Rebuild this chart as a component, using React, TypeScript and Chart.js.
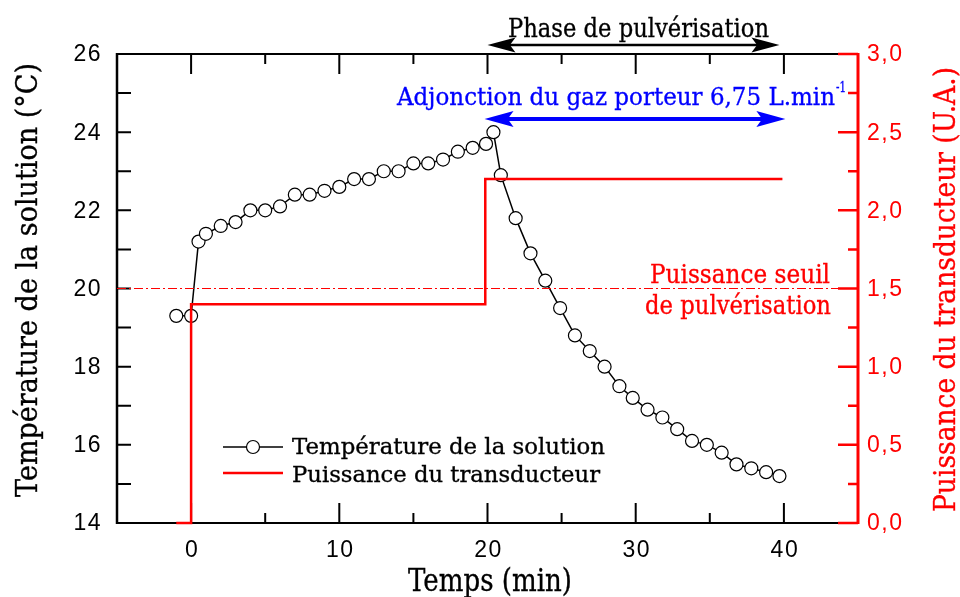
import React, { useEffect, useRef } from "react";
import { Chart, registerables } from "chart.js";
Chart.register(...registerables);

// ---- data ----
const tempTimes = [-1, 0, 0.5, 1, 2, 3, 4, 5, 6, 7, 8, 9, 10, 11, 12, 13, 14, 15, 16, 17, 18, 19, 19.9, 20.4, 20.9, 21.9, 22.9, 23.9, 24.9, 25.9, 26.9, 27.9, 28.9, 29.8, 30.8, 31.8, 32.8, 33.8, 34.8, 35.8, 36.8, 37.8, 38.8, 39.7];
const tempValues = [19.3, 19.3, 21.2, 21.4, 21.6, 21.7, 22.0, 22.0, 22.1, 22.4, 22.4, 22.5, 22.6, 22.8, 22.8, 23.0, 23.0, 23.2, 23.2, 23.3, 23.5, 23.6, 23.7, 24.0, 22.9, 21.8, 20.9, 20.2, 19.5, 18.8, 18.4, 18.0, 17.5, 17.2, 16.9, 16.7, 16.4, 16.1, 16.0, 15.8, 15.5, 15.4, 15.3, 15.2];
const powerTimes = [-1, 0, 0, 19.85, 19.85, 39.9];
const powerValues = [0, 0, 1.4, 1.4, 2.2, 2.2];
const thresholdTimes = [-5, 45];
const thresholdValues = [1.5, 1.5];

const xMajorTicks = [0, 10, 20, 30, 40];
const xMinorTicks = [-5, 5, 15, 25, 35, 45];
const yLeftTicks = [14, 16, 18, 20, 22, 24, 26];
const yLeftMinorTicks = [15, 17, 19, 21, 23, 25];
const yRightTicks = [0, 0.5, 1, 1.5, 2, 2.5, 3];
const yRightMinorTicks = [0.25, 0.75, 1.25, 1.75, 2.25, 2.75];
const yRightLabels = ["0,0", "0,5", "1,0", "1,5", "2,0", "2,5", "3,0"];

const phaseRange = [20, 39.7];
const gasRange = [19.8, 40.1];

const SERIF = '"DejaVu Serif", serif';
const SANS = '"Liberation Sans", Arial, sans-serif';
const RED = "#ff0000";
const BLUE = "#0000ff";

function fitText(
  ctx: CanvasRenderingContext2D,
  text: string,
  x: number,
  y: number,
  width: number,
  size: number,
  color: string,
  align: CanvasTextAlign,
  rotation = 0
) {
  ctx.save();
  ctx.font = `${size}px ${SERIF}`;
  const w = ctx.measureText(text).width;
  const s = width / w;
  ctx.translate(x, y);
  ctx.rotate(rotation);
  ctx.scale(s, 1);
  ctx.fillStyle = color;
  ctx.strokeStyle = color;
  ctx.lineWidth = 0.35;
  ctx.textAlign = align;
  ctx.textBaseline = "alphabetic";
  ctx.fillText(text, 0, 0);
  ctx.strokeText(text, 0, 0);
  ctx.restore();
}

function arrow(ctx: CanvasRenderingContext2D, x1: number, x2: number, y: number, color: string, lw: number, hl: number, hw: number) {
  ctx.save();
  ctx.strokeStyle = color;
  ctx.fillStyle = color;
  ctx.lineWidth = lw;
  ctx.beginPath();
  ctx.moveTo(x1 + hl * 0.7, y);
  ctx.lineTo(x2 - hl * 0.7, y);
  ctx.stroke();
  ctx.beginPath();
  ctx.moveTo(x1, y);
  ctx.lineTo(x1 + hl, y - hw);
  ctx.lineTo(x1 + hl * 0.8, y);
  ctx.lineTo(x1 + hl, y + hw);
  ctx.closePath();
  ctx.fill();
  ctx.beginPath();
  ctx.moveTo(x2, y);
  ctx.lineTo(x2 - hl, y - hw);
  ctx.lineTo(x2 - hl * 0.8, y);
  ctx.lineTo(x2 - hl, y + hw);
  ctx.closePath();
  ctx.fill();
  ctx.restore();
}

const framePlugin = {
  id: "frame",
  beforeDatasetsDraw(chart: any) {
    const { ctx, chartArea: a, scales } = chart;
    const x = scales.x, y = scales.y, y2 = scales.y2;
    ctx.save();
    // frame
    ctx.strokeStyle = "#000";
    ctx.lineWidth = 2;
    ctx.beginPath();
    ctx.moveTo(a.left, a.top);
    ctx.lineTo(a.right, a.top);
    ctx.moveTo(a.left, a.bottom);
    ctx.lineTo(a.right, a.bottom);
    ctx.stroke();
    ctx.lineWidth = 2.5;
    ctx.beginPath();
    ctx.moveTo(a.left, a.top - 1);
    ctx.lineTo(a.left, a.bottom + 1);
    ctx.stroke();
    // x ticks (inward, top and bottom)
    ctx.lineWidth = 2;
    ctx.beginPath();
    for (const t of xMajorTicks) {
      const px = x.getPixelForValue(t);
      ctx.moveTo(px, a.bottom);
      ctx.lineTo(px, a.bottom - 20);
      ctx.moveTo(px, a.top);
      ctx.lineTo(px, a.top + 20);
    }
    for (const t of xMinorTicks) {
      const px = x.getPixelForValue(t);
      ctx.moveTo(px, a.bottom);
      ctx.lineTo(px, a.bottom - 10);
      ctx.moveTo(px, a.top);
      ctx.lineTo(px, a.top + 10);
    }
    // left ticks
    for (const t of [...yLeftTicks, ...yLeftMinorTicks]) {
      const py = y.getPixelForValue(t);
      ctx.moveTo(a.left, py);
      ctx.lineTo(a.left + 14, py);
    }
    ctx.stroke();
    // right red axis
    ctx.strokeStyle = RED;
    ctx.lineWidth = 3;
    ctx.beginPath();
    ctx.moveTo(a.right, a.top - 1);
    ctx.lineTo(a.right, a.bottom + 1);
    ctx.stroke();
    ctx.lineWidth = 2.5;
    ctx.beginPath();
    for (const t of yRightTicks) {
      const py = y2.getPixelForValue(t);
      ctx.moveTo(a.right, py);
      ctx.lineTo(a.right - 20, py);
    }
    for (const t of yRightMinorTicks) {
      const py = y2.getPixelForValue(t);
      ctx.moveTo(a.right, py);
      ctx.lineTo(a.right - 10, py);
    }
    ctx.stroke();

    // tick labels
    ctx.font = `23px ${SANS}`;
    if ("letterSpacing" in ctx) (ctx as any).letterSpacing = "1.5px";
    ctx.fillStyle = "#000";
    ctx.textBaseline = "middle";
    ctx.textAlign = "right";
    for (const t of yLeftTicks) ctx.fillText(String(t), 102, y.getPixelForValue(t) + 1);
    ctx.textAlign = "center";
    for (const t of xMajorTicks) ctx.fillText(String(t), x.getPixelForValue(t) + 1, 551);
    ctx.textAlign = "left";
    ctx.fillStyle = RED;
    yRightTicks.forEach((t, i) => ctx.fillText(yRightLabels[i], 867, y2.getPixelForValue(t) + 1));
    if ("letterSpacing" in ctx) (ctx as any).letterSpacing = "0px";
    ctx.restore();
  },
  afterDraw(chart: any) {
    const { ctx, scales } = chart;
    const x = scales.x;
    // axis titles
    fitText(ctx, "Température de la solution (°C)", 37, 280, 434, 30, "#000", "center", -Math.PI / 2);
    fitText(ctx, "Puissance du transducteur (U.A.)", 955, 289.5, 445, 30, RED, "center", -Math.PI / 2);
    fitText(ctx, "Temps (min)", 490, 591, 164, 31, "#000", "center");
    // annotations
    fitText(ctx, "Phase de pulvérisation", 508, 37, 261, 26, "#000", "left");
    arrow(ctx, x.getPixelForValue(phaseRange[0]), x.getPixelForValue(phaseRange[1]), 45, "#000", 2.5, 28, 7.5);
    fitText(ctx, "Adjonction du gaz porteur 6,75 L.min", 397, 105, 438, 25, BLUE, "left");
    fitText(ctx, "-1", 836, 92, 10, 15, BLUE, "left");
    arrow(ctx, x.getPixelForValue(gasRange[0]), x.getPixelForValue(gasRange[1]), 119, BLUE, 4, 29, 8);
    fitText(ctx, "Puissance seuil", 830, 283, 180, 26, RED, "right");
    fitText(ctx, "de pulvérisation", 831, 314, 186, 26, RED, "right");
    // legend
    ctx.save();
    ctx.strokeStyle = "#000";
    ctx.lineWidth = 1.5;
    ctx.beginPath();
    ctx.moveTo(223, 447);
    ctx.lineTo(283, 447);
    ctx.stroke();
    ctx.beginPath();
    ctx.arc(253, 447, 6.5, 0, Math.PI * 2);
    ctx.fillStyle = "#fff";
    ctx.fill();
    ctx.lineWidth = 1.2;
    ctx.stroke();
    ctx.strokeStyle = RED;
    ctx.lineWidth = 2.5;
    ctx.beginPath();
    ctx.moveTo(223, 473);
    ctx.lineTo(283, 473);
    ctx.stroke();
    ctx.restore();
    fitText(ctx, "Température de la solution", 292, 454, 313, 23, "#000", "left");
    fitText(ctx, "Puissance du transducteur", 292, 482, 308, 23, "#000", "left");
  },
};

export default function App() {
  const ref = useRef<HTMLCanvasElement | null>(null);
  useEffect(() => {
    if (!ref.current) return;
    const chart = new Chart(ref.current, {
      type: "line",
      data: {
        datasets: [
          {
            label: "Puissance du transducteur",
            data: powerTimes.map((t, i) => ({ x: t, y: powerValues[i] })),
            yAxisID: "y2",
            borderColor: RED,
            borderWidth: 2.5,
            pointRadius: 0,
            tension: 0,
            clip: false as any,
          },
          {
            label: "Puissance seuil",
            data: thresholdTimes.map((t, i) => ({ x: t, y: thresholdValues[i] })),
            yAxisID: "y2",
            borderColor: RED,
            borderWidth: 1.2,
            borderDash: [9, 3, 2, 3],
            pointRadius: 0,
          },
          {
            label: "Température de la solution",
            data: tempTimes.map((t, i) => ({ x: t, y: tempValues[i] })),
            yAxisID: "y",
            borderColor: "#000",
            borderWidth: 1.5,
            pointRadius: 6.5,
            pointBackgroundColor: "#fff",
            pointBorderColor: "#000",
            pointBorderWidth: 1.2,
            tension: 0,
          },
        ],
      },
      options: {
        animation: false,
        responsive: false,
        devicePixelRatio: 1,
        layout: { padding: { top: 54, left: 0, right: 0, bottom: 0 } },
        plugins: { legend: { display: false }, tooltip: { enabled: false } },
        events: [],
        scales: {
          x: {
            type: "linear",
            min: -5,
            max: 45,
            grid: { display: false, drawTicks: false },
            border: { display: false },
            ticks: { display: false },
            afterFit: (s: any) => { s.height = 74; },
          },
          y: {
            type: "linear",
            position: "left",
            min: 14,
            max: 26,
            grid: { display: false, drawTicks: false },
            border: { display: false },
            ticks: { display: false },
            afterFit: (s: any) => { s.width = 117; },
          },
          y2: {
            type: "linear",
            position: "right",
            min: 0,
            max: 3,
            grid: { display: false, drawTicks: false },
            border: { display: false },
            ticks: { display: false },
            afterFit: (s: any) => { s.width = 102; },
          },
        },
      } as any,
      plugins: [framePlugin],
    });
    return () => chart.destroy();
  }, []);
  return (
    <div style={{ position: "fixed", left: 0, top: 0, width: 960, height: 597, background: "#fff" }}>
      <canvas ref={ref} width={960} height={597} style={{ display: "block", width: 960, height: 597 }} />
    </div>
  );
}
